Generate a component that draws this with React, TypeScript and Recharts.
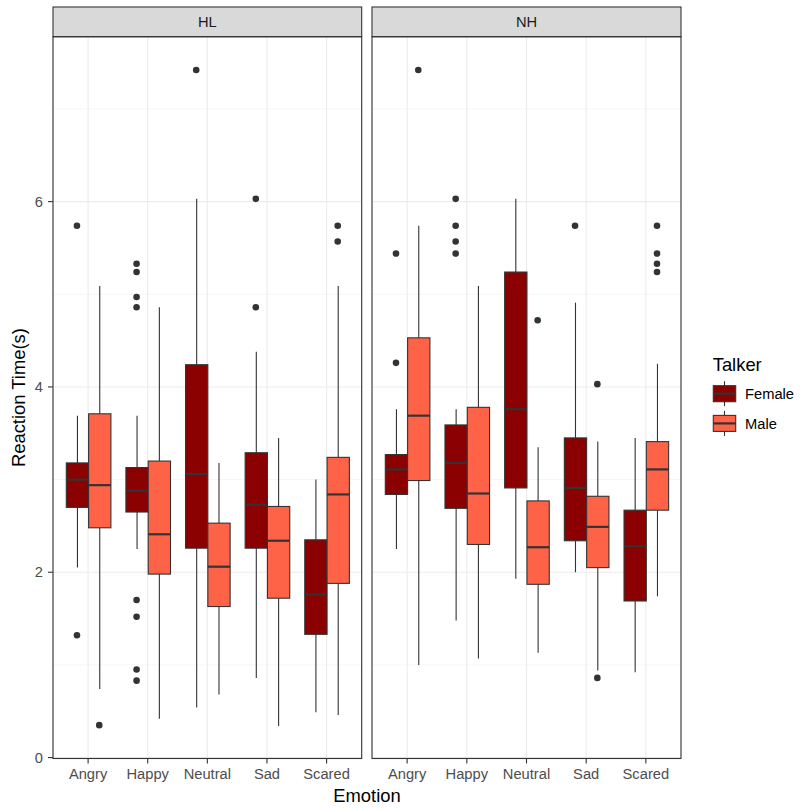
import React from 'react';
import { ComposedChart, Bar, Scatter, XAxis, YAxis, CartesianGrid } from 'recharts';

const emotions = ['Angry', 'Happy', 'Neutral', 'Sad', 'Scared'];

// each entry: [lower whisker, Q1, median, Q3, upper whisker]
const hlFemale = [
  [2.05, 2.70, 3.00, 3.18, 3.69],
  [2.25, 2.65, 2.88, 3.13, 3.69],
  [0.54, 2.26, 3.06, 4.24, 6.03],
  [0.86, 2.26, 2.73, 3.29, 4.38],
  [0.49, 1.33, 1.76, 2.35, 3.00],
];
const hlMale = [
  [0.74, 2.48, 2.94, 3.71, 5.09],
  [0.42, 1.98, 2.41, 3.20, 4.86],
  [0.68, 1.63, 2.06, 2.53, 3.18],
  [0.34, 1.72, 2.34, 2.71, 3.45],
  [0.46, 1.88, 2.84, 3.24, 5.09],
];
const nhFemale = [
  [2.25, 2.84, 3.11, 3.27, 3.76],
  [1.48, 2.69, 3.18, 3.59, 3.76],
  [1.93, 2.91, 3.76, 5.24, 6.03],
  [2.00, 2.34, 2.91, 3.45, 4.91],
  [0.92, 1.69, 2.28, 2.67, 3.45],
];
const nhMale = [
  [1.00, 2.99, 3.69, 4.53, 5.74],
  [1.07, 2.30, 2.85, 3.78, 5.09],
  [1.13, 1.87, 2.27, 2.77, 3.35],
  [0.94, 2.05, 2.49, 2.82, 3.41],
  [1.74, 2.67, 3.11, 3.41, 4.25],
];

// outliers per emotion
const hlFemaleOut = [[5.74, 1.32], [5.33, 5.24, 4.97, 4.86, 1.70, 1.52, 0.95, 0.83], [7.42], [6.03, 4.86], []];
const hlMaleOut = [[0.35], [], [], [], [5.74, 5.57]];
const nhFemaleOut = [[5.44, 4.26], [6.03, 5.74, 5.57, 5.44], [], [5.74], []];
const nhMaleOut = [[7.42], [], [4.72], [4.03, 0.86], [5.74, 5.44, 5.33, 5.24]];

const yTicks = [0, 2, 4, 6];
const yMinor = [1, 3, 5, 7];

const FEMALE = '#8B0000';
const MALE = '#FF6347';
const INK = '#333333';
const FONT = '"Liberation Sans", Arial, sans-serif';
const BOX_W = 22.3;

function buildRows(female: number[][], male: number[][]) {
  return emotions.map((emo, i) => ({
    emo,
    f: female[i],
    m: male[i],
    fLo: female[i][0],
    fSpan: female[i][4] - female[i][0],
    mLo: male[i][0],
    mSpan: male[i][4] - male[i][0],
  }));
}

function buildOutliers(out: number[][]) {
  return out.flatMap((vals, i) => vals.map((v) => ({ emo: emotions[i], v })));
}

function BoxShape(props: any) {
  const { x, y, width, height, payload, stat, color } = props;
  const [lo, q1, med, q3, hi] = payload[stat];
  const k = height / (hi - lo);
  const py = (v: number) => y + (hi - v) * k;
  const cx = x + width / 2;
  return (
    <g>
      <line x1={cx} x2={cx} y1={py(hi)} y2={py(q3)} stroke={INK} strokeWidth={1.1} />
      <line x1={cx} x2={cx} y1={py(q1)} y2={py(lo)} stroke={INK} strokeWidth={1.1} />
      <rect x={x} y={py(q3)} width={width} height={py(q1) - py(q3)} fill={color} stroke={INK} strokeWidth={1.1} />
      <line x1={x} x2={x + width} y1={py(med)} y2={py(med)} stroke={INK} strokeWidth={2.2} />
    </g>
  );
}

function Panel({ female, male, fOut, mOut, width, showY }: any) {
  const rows = buildRows(female, male);
  return (
    <ComposedChart
      width={width}
      height={809}
      data={rows}
      margin={{ top: 36.7, right: 0, bottom: 20.5, left: 0 }}
      barSize={BOX_W}
      barGap={0}
    >
      {/* minor grid first so the major one sits on top */}
      <CartesianGrid stroke="#F3F3F3" strokeWidth={0.8} vertical={false} horizontalValues={yMinor} />
      <CartesianGrid stroke="#EBEBEB" strokeWidth={1.1} />
      <XAxis
        dataKey="emo"
        type="category"
        allowDuplicatedCategory={false}
        padding={{ left: 5.3, right: 5.3 }}
        interval={0}
        height={30}
        tickSize={5}
        tickMargin={5}
        axisLine={false}
        tickLine={{ stroke: INK, strokeWidth: 1.1 }}
        tick={{ fill: '#4D4D4D', fontSize: 14.7, fontFamily: FONT }}
      />
      <YAxis
        type="number"
        domain={[-0.01, 7.78]}
        ticks={yTicks}
        interval={0}
        hide={!showY}
        width={showY ? 53 : 0}
        tickSize={5}
        tickMargin={5}
        axisLine={false}
        tickLine={{ stroke: INK, strokeWidth: 1.1 }}
        tick={{ fill: '#4D4D4D', fontSize: 14.7, fontFamily: FONT }}
      />
      <Bar dataKey="fLo" stackId="f" fill="none" isAnimationActive={false} />
      <Bar
        dataKey="fSpan"
        stackId="f"
        isAnimationActive={false}
        shape={(p: any) => <BoxShape {...p} stat="f" color={FEMALE} />}
      />
      <Bar dataKey="mLo" stackId="m" fill="none" isAnimationActive={false} />
      <Bar
        dataKey="mSpan"
        stackId="m"
        isAnimationActive={false}
        shape={(p: any) => <BoxShape {...p} stat="m" color={MALE} />}
      />
      <Scatter
        data={buildOutliers(fOut)}
        dataKey="v"
        isAnimationActive={false}
        shape={(p: any) => <circle cx={p.cx - BOX_W / 2} cy={p.cy} r={3.3} fill={INK} />}
      />
      <Scatter
        data={buildOutliers(mOut)}
        dataKey="v"
        isAnimationActive={false}
        shape={(p: any) => <circle cx={p.cx + BOX_W / 2} cy={p.cy} r={3.3} fill={INK} />}
      />
    </ComposedChart>
  );
}

function LegendKey({ y, color }: { y: number; color: string }) {
  return (
    <g>
      <line x1={724.5} x2={724.5} y1={y - 12.5} y2={y + 12.5} stroke={INK} strokeWidth={1.1} />
      <rect x={713.3} y={y - 8} width={22.4} height={16} fill={color} stroke={INK} strokeWidth={1.1} />
      <line x1={713.3} x2={735.7} y1={y} y2={y} stroke={INK} strokeWidth={2.2} />
    </g>
  );
}

export default function App() {
  return (
    <div style={{ position: 'absolute', left: 0, top: 0, width: 800, height: 809, background: '#fff', fontFamily: FONT }}>
      <div style={{ position: 'absolute', left: 0, top: 0 }}>
        <Panel female={hlFemale} male={hlMale} fOut={hlFemaleOut} mOut={hlMaleOut} width={361.7} showY />
      </div>
      <div style={{ position: 'absolute', left: 372, top: 0 }}>
        <Panel female={nhFemale} male={nhMale} fOut={nhFemaleOut} mOut={nhMaleOut} width={309} showY={false} />
      </div>
      <svg
        width={800}
        height={809}
        style={{ position: 'absolute', left: 0, top: 0, pointerEvents: 'none' }}
        fontFamily={FONT}
      >
        {/* facet strips */}
        <rect x={53} y={7} width={308.7} height={29.7} fill="#D9D9D9" stroke={INK} strokeWidth={1.1} />
        <text x={207.3} y={27.3} textAnchor="middle" fontSize={14.7} fill="#1A1A1A">HL</text>
        <rect x={372} y={7} width={309} height={29.7} fill="#D9D9D9" stroke={INK} strokeWidth={1.1} />
        <text x={526.5} y={27.3} textAnchor="middle" fontSize={14.7} fill="#1A1A1A">NH</text>
        {/* panel borders */}
        <rect x={53} y={36.7} width={308.7} height={721.8} fill="none" stroke={INK} strokeWidth={1.1} />
        <rect x={372} y={36.7} width={309} height={721.8} fill="none" stroke={INK} strokeWidth={1.1} />
        {/* axis titles */}
        <text x={367} y={802} textAnchor="middle" fontSize={18.4} fill="#000">Emotion</text>
        <text
          x={0}
          y={0}
          transform="translate(25.3 397.6) rotate(-90)"
          textAnchor="middle"
          fontSize={18.4}
          fill="#000"
        >
          Reaction Time(s)
        </text>
        {/* legend */}
        <text x={712.7} y={370.7} fontSize={18.4} fill="#000">Talker</text>
        <LegendKey y={393.7} color={FEMALE} />
        <text x={745} y={399.3} fontSize={14.7} fill="#000">Female</text>
        <LegendKey y={423.4} color={MALE} />
        <text x={745} y={429.3} fontSize={14.7} fill="#000">Male</text>
      </svg>
    </div>
  );
}
